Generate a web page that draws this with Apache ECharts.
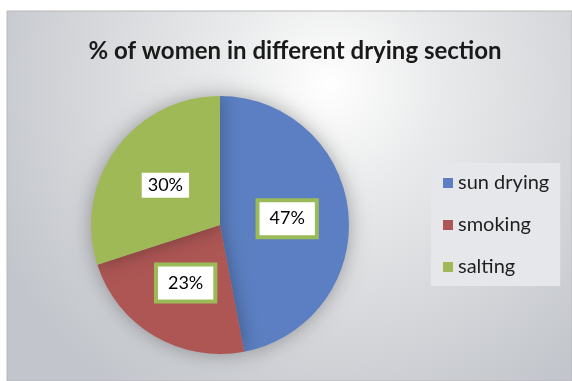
<!DOCTYPE html>
<html>
<head>
<meta charset="utf-8">
<script src="https://cdn.jsdelivr.net/npm/echarts@6/dist/echarts.min.js"></script>
<style>html,body{margin:0;padding:0;background:#fff}#c{width:572px;height:381px}</style>
</head>
<body>
<div id="c"></div>
<script>
const titleText = '% of women in different drying section';
const categories = ['sun drying', 'smoking', 'salting'];
const values = [47, 23, 30];
const colors = ['#5B7FC2', '#AD5654', '#A0B957'];
const labelBorders = ['#9BBB59', '#9BBB59', null];

const chart = echarts.init(document.getElementById('c'), null, {renderer: 'canvas'});
const FONT = 'Lato, "Open Sans", sans-serif';

const data = categories.map((name, i) => {
  const b = labelBorders[i];
  return {
    name: name,
    value: values[i],
    itemStyle: {color: colors[i]},
    label: b ? {borderColor: b, borderWidth: 4, padding: [8, 10, 7, 10]} : {borderWidth: 0, padding: [4, 6, 3, 6]}
  };
});

chart.setOption({
  animation: false,
  backgroundColor: '#ffffff',
  graphic: [{
    type: 'rect',
    z: -10,
    silent: true,
    shape: {x: 7, y: 11, width: 565, height: 370},
    style: {
      fill: {
        type: 'radial', x: 0.57, y: 0.2, r: 1.0,
        colorStops: [
          {offset: 0, color: '#ffffff'},
          {offset: 0.3, color: '#e9eaeb'},
          {offset: 1, color: '#c2c5cb'}
        ]
      },
      stroke: '#b8b8b8',
      lineWidth: 1
    }
  }],
  title: {
    text: titleText,
    left: 290,
    top: 34,
    textAlign: 'center',
    textStyle: {fontFamily: FONT, fontSize: 24, fontWeight: 'bold', color: '#1a1a1a'}
  },
  legend: {
    orient: 'vertical',
    left: 431,
    top: 163,
    backgroundColor: '#e5e7ea',
    padding: [10, 11, 9, 12],
    itemGap: 22,
    icon: 'rect',
    itemWidth: 10,
    itemHeight: 10,
    textStyle: {fontFamily: FONT, fontSize: 20, color: '#1f1f1f'},
    data: categories
  },
  series: [{
    type: 'pie',
    center: [220, 225],
    radius: 129,
    startAngle: 90,
    clockwise: true,
    silent: true,
    itemStyle: {shadowBlur: 20, shadowColor: 'rgba(0,0,0,0.32)'},
    label: {
      show: true,
      position: 'inside',
      formatter: '{d}%',
      fontFamily: FONT,
      fontSize: 18,
      color: '#000000',
      backgroundColor: '#ffffff'
    },
    labelLine: {show: false},
    data: data
  }]
});
</script>
</body>
</html>
